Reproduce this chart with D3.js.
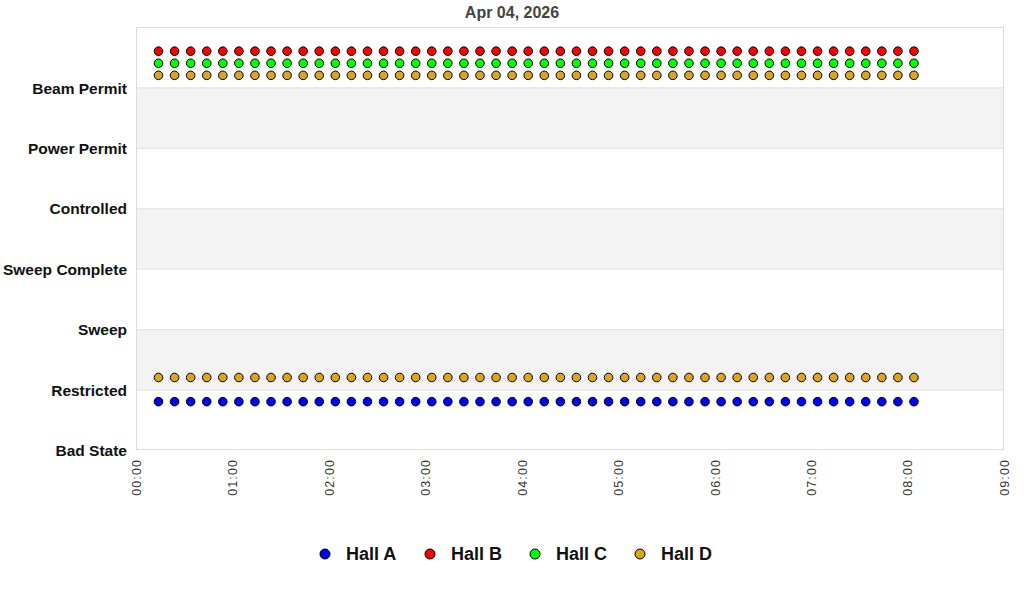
<!DOCTYPE html>
<html>
<head>
<meta charset="utf-8">
<script src="https://cdn.jsdelivr.net/npm/d3@7/dist/d3.min.js"></script>
<style>
  body { margin: 0; background: #fff; }
  svg { font-family: "Liberation Sans", Arial, sans-serif; }
</style>
</head>
<body>
<svg id="chart" width="1024" height="600"></svg>
<script>
const title = "Apr 04, 2026";
const stateLabels = ["Bad State", "Restricted", "Sweep", "Sweep Complete", "Controlled", "Power Permit", "Beam Permit"];
const xTickLabels = ["00:00","01:00","02:00","03:00","04:00","05:00","06:00","07:00","08:00","09:00"];
const times = ["00:14","00:24","00:34","00:44","00:54","01:04","01:14","01:24","01:34","01:44","01:54","02:04",
               "02:14","02:24","02:34","02:44","02:54","03:04","03:14","03:24","03:34","03:44","03:54","04:04",
               "04:14","04:24","04:34","04:44","04:54","05:04","05:14","05:24","05:34","05:44","05:54","06:04",
               "06:14","06:24","06:34","06:44","06:54","07:04","07:14","07:24","07:34","07:44","07:54","08:04"];
const hallA  = [0.8,0.8,0.8,0.8,0.8,0.8,0.8,0.8,0.8,0.8,0.8,0.8,0.8,0.8,0.8,0.8,0.8,0.8,0.8,0.8,0.8,0.8,0.8,0.8,
                0.8,0.8,0.8,0.8,0.8,0.8,0.8,0.8,0.8,0.8,0.8,0.8,0.8,0.8,0.8,0.8,0.8,0.8,0.8,0.8,0.8,0.8,0.8,0.8];
const hallB  = [6.6,6.6,6.6,6.6,6.6,6.6,6.6,6.6,6.6,6.6,6.6,6.6,6.6,6.6,6.6,6.6,6.6,6.6,6.6,6.6,6.6,6.6,6.6,6.6,
                6.6,6.6,6.6,6.6,6.6,6.6,6.6,6.6,6.6,6.6,6.6,6.6,6.6,6.6,6.6,6.6,6.6,6.6,6.6,6.6,6.6,6.6,6.6,6.6];
const hallC  = [6.4,6.4,6.4,6.4,6.4,6.4,6.4,6.4,6.4,6.4,6.4,6.4,6.4,6.4,6.4,6.4,6.4,6.4,6.4,6.4,6.4,6.4,6.4,6.4,
                6.4,6.4,6.4,6.4,6.4,6.4,6.4,6.4,6.4,6.4,6.4,6.4,6.4,6.4,6.4,6.4,6.4,6.4,6.4,6.4,6.4,6.4,6.4,6.4];
const hallDHigh = [6.2,6.2,6.2,6.2,6.2,6.2,6.2,6.2,6.2,6.2,6.2,6.2,6.2,6.2,6.2,6.2,6.2,6.2,6.2,6.2,6.2,6.2,6.2,6.2,
                   6.2,6.2,6.2,6.2,6.2,6.2,6.2,6.2,6.2,6.2,6.2,6.2,6.2,6.2,6.2,6.2,6.2,6.2,6.2,6.2,6.2,6.2,6.2,6.2];
const hallDLow  = [1.2,1.2,1.2,1.2,1.2,1.2,1.2,1.2,1.2,1.2,1.2,1.2,1.2,1.2,1.2,1.2,1.2,1.2,1.2,1.2,1.2,1.2,1.2,1.2,
                   1.2,1.2,1.2,1.2,1.2,1.2,1.2,1.2,1.2,1.2,1.2,1.2,1.2,1.2,1.2,1.2,1.2,1.2,1.2,1.2,1.2,1.2,1.2,1.2];
const seriesNames = ["Hall A", "Hall B", "Hall C", "Hall D"];
const seriesColors = ["#0000ff", "#ff0000", "#00ff00", "#daa520"];

const svg = d3.select("#chart");
const margin = {left: 136, right: 20, top: 27, bottom: 150};
const W = 1024, H = 600;
const x0 = margin.left, x1 = W - margin.right, y0 = H - margin.bottom, y1 = margin.top;

const parse = d3.timeParse("%Y-%m-%d %H:%M");
const day = "2026-04-04";
const x = d3.scaleTime().domain([parse(day + " 00:00"), parse(day + " 09:00")]).range([x0, x1]);
const y = d3.scaleLinear().domain([0, 7]).range([y0, y1]);

// alternating bands
const bands = [[1,2],[3,4],[5,6]];
svg.append("g").selectAll("rect").data(bands).join("rect")
  .attr("x", x0).attr("width", x1 - x0)
  .attr("y", d => y(d[1])).attr("height", d => y(d[0]) - y(d[1]))
  .attr("fill", "#f3f3f3");

// gridlines
svg.append("g").selectAll("line").data(d3.range(1, 7)).join("line")
  .attr("x1", x0).attr("x2", x1)
  .attr("y1", d => y(d) + 0.5).attr("y2", d => y(d) + 0.5)
  .attr("stroke", "#e0e0e0").attr("stroke-width", 1);

// border
svg.append("rect").attr("x", x0 + 0.5).attr("y", y1 + 0.5)
  .attr("width", x1 - x0 - 1).attr("height", y0 - y1 - 1)
  .attr("fill", "none").attr("stroke", "#dcdcdc");

// y axis labels
const yAxis = d3.axisLeft(y).tickValues(d3.range(0, 7)).tickFormat(i => stateLabels[i]).tickSize(0).tickPadding(9);
const gy = svg.append("g").attr("transform", `translate(${x0},0)`).call(yAxis);
gy.select(".domain").remove();
gy.selectAll("text").attr("font-size", 15.5).attr("font-weight", "bold").attr("fill", "#111")
  .attr("font-family", "Liberation Sans, Arial, sans-serif").attr("dy", "0.36em");

// x axis labels
const xTicks = xTickLabels.map(t => parse(day + " " + t));
const xAxis = d3.axisBottom(x).tickValues(xTicks).tickFormat((d, i) => xTickLabels[i]).tickSize(0).tickPadding(0);
const gx = svg.append("g").attr("transform", `translate(0,${y0})`).call(xAxis);
gx.select(".domain").remove();
gx.selectAll("text")
  .attr("font-size", 12.5).attr("fill", "#333")
  .attr("letter-spacing", "1.1px")
  .attr("font-family", "Liberation Sans, Arial, sans-serif")
  .attr("text-anchor", "end")
  .attr("transform", "rotate(-90)")
  .attr("x", -9).attr("y", 0).attr("dy", "0.35em");

// points
const series = [
  {vals: hallA, color: seriesColors[0]},
  {vals: hallDLow, color: seriesColors[3]},
  {vals: hallDHigh, color: seriesColors[3]},
  {vals: hallC, color: seriesColors[2]},
  {vals: hallB, color: seriesColors[1]}
];
series.forEach(s => {
  svg.append("g").selectAll("circle").data(times.map((t, i) => ({t: parse(day + " " + t), v: s.vals[i]})))
    .join("circle")
    .attr("cx", d => x(d.t)).attr("cy", d => y(d.v)).attr("r", 4.3)
    .attr("fill", s.color).attr("stroke", "#000").attr("stroke-width", 1);
});

// title
svg.append("text").attr("x", (x0 + x1) / 2 - 58).attr("y", 18)
  .attr("text-anchor", "middle").attr("font-size", 16).attr("font-weight", "bold")
  .attr("fill", "#444").text(title);

// legend
const legendX = d3.scalePoint().domain(seriesNames).range([325, 640]);
const lg = svg.append("g").selectAll("g").data(seriesNames).join("g")
  .attr("transform", d => `translate(${legendX(d)},554)`);
lg.append("circle").attr("r", 5).attr("fill", (d, i) => seriesColors[i]).attr("stroke", "#000").attr("stroke-width", 1);
lg.append("text").attr("x", 21).attr("dy", "0.36em").attr("font-size", 18).attr("font-weight", "bold")
  .attr("fill", "#111").text(d => d);
</script>
</body>
</html>
